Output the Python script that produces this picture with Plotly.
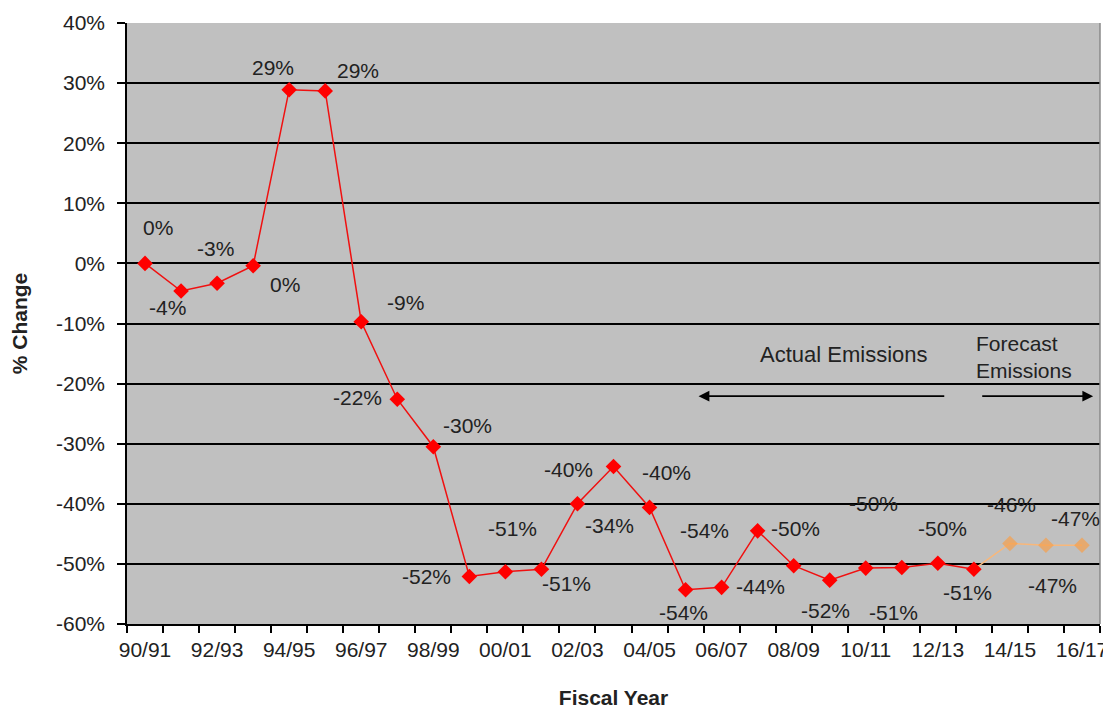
import plotly.graph_objects as go

categories = ["90/91", "91/92", "92/93", "93/94", "94/95", "95/96", "96/97", "97/98",
              "98/99", "99/00", "00/01", "01/02", "02/03", "03/04", "04/05", "05/06",
              "06/07", "07/08", "08/09", "09/10", "10/11", "11/12", "12/13", "13/14",
              "14/15", "15/16", "16/17"]
actual_values = [0.0, -4.6, -3.3, -0.4, 28.9, 28.7, -9.7, -22.6, -30.5, -52.1, -51.3,
                 -50.9, -40.0, -33.8, -40.6, -54.3, -53.9, -44.5, -50.3, -52.7, -50.7,
                 -50.6, -49.9, -50.9]
forecast_values = [-46.6, -46.9, -46.9]
label_texts = ["0%", "-4%", "-3%", "0%", "29%", "29%", "-9%", "-22%", "-30%", "-52%",
               "-51%", "-51%", "-40%", "-34%", "-40%", "-54%", "-54%", "-44%", "-50%",
               "-52%", "-50%", "-51%", "-50%", "-51%", "-46%", "-47%", "-47%"]
y_tick_values = [40, 30, 20, 10, 0, -10, -20, -30, -40, -50, -60]
y_tick_labels = ["40%", "30%", "20%", "10%", "0%", "-10%", "-20%", "-30%", "-40%",
                 "-50%", "-60%"]
# pixel offsets of each data label from its marker (style only)
label_offsets = [(13, -36), (-14, 16), (-2, -35), (32, 19), (-16, -22), (33, -20),
                 (44, -19), (-40, -2), (34, -21), (-43, 0), (7, -43), (25, 14),
                 (-9, -34), (-4, 59), (17, -35), (-2, 23), (-17, -57), (3, 56),
                 (2, -37), (-4, 30), (8, -65), (-8, 45), (5, -35), (-6, 23),
                 (2, -39), (7, 40), (-6, -27)]

n = len(categories)
x_all = list(range(n))
n_act = len(actual_values)
all_values = actual_values + forecast_values

FONT = "Liberation Sans, Arial, sans-serif"
TXT = "#222222"
FS = 21

fig = go.Figure()

# forecast (orange) - line starts at the last actual point
fig.add_trace(go.Scatter(
    x=x_all[n_act - 1:], y=[actual_values[-1]] + forecast_values,
    mode="lines+markers",
    line=dict(color="#F8B77A", width=1.5),
    marker=dict(symbol="diamond", size=[0] + [12] * len(forecast_values),
                color="#F7A04C", line=dict(width=0)),
    showlegend=False))

fig.add_trace(go.Scatter(
    x=x_all[:n_act], y=actual_values,
    mode="lines+markers",
    line=dict(color="#F01010", width=1.5),
    marker=dict(symbol="diamond", size=12, color="#FF0000", line=dict(width=0)),
    showlegend=False))

for i, (txt, (dx, dy)) in enumerate(zip(label_texts, label_offsets)):
    fig.add_annotation(x=x_all[i], y=all_values[i], text=txt, showarrow=False,
                       xshift=dx, yshift=-dy, font=dict(family=FONT, size=FS, color=TXT))

# Actual / Forecast arrows and text
fig.add_annotation(x=15.36, y=-22.1, ax=22.22, ay=-22.1, xref="x", yref="y",
                   axref="x", ayref="y", showarrow=True, arrowhead=2, arrowsize=1.2,
                   arrowwidth=1.8, arrowcolor="black", text="")
fig.add_annotation(x=26.31, y=-22.1, ax=23.19, ay=-22.1, xref="x", yref="y",
                   axref="x", ayref="y", showarrow=True, arrowhead=2, arrowsize=1.2,
                   arrowwidth=1.8, arrowcolor="black", text="")
fig.add_annotation(x=19.39, y=-15.1, text="Actual Emissions", showarrow=False,
                   font=dict(family=FONT, size=22, color=TXT))
fig.add_annotation(x=23.0, y=-15.5, text="Forecast<br>Emissions", showarrow=False,
                   xanchor="left", align="left",
                   font=dict(family=FONT, size=21, color=TXT))

# right border
fig.add_shape(type="line", xref="paper", yref="paper", x0=1, x1=1, y0=0, y1=1,
              line=dict(color="#8A8A8A", width=1.5))

# the page body has an 8px margin, so the figure is 8px smaller than the window
fig.update_layout(
    width=1103, height=701,
    margin=dict(l=119, r=11, t=15, b=85),
    paper_bgcolor="white", plot_bgcolor="#C0C0C0",
    font=dict(family=FONT, size=FS, color=TXT),
    xaxis=dict(
        range=[-0.5, n - 0.5], tickmode="array",
        tickvals=x_all[::2], ticktext=categories[::2],
        ticks="", showgrid=False, zeroline=False, automargin=False,
        showline=True, linecolor="black", linewidth=1.5,
        tickfont=dict(family=FONT, size=FS, color=TXT),
        ticklabelstandoff=6,
        minor=dict(tick0=-0.5, dtick=1, ticks="outside", ticklen=7,
                   tickcolor="black", tickwidth=1.5, showgrid=False),
        title=dict(text="<b>Fiscal Year</b>", standoff=33,
                   font=dict(family=FONT, size=21, color=TXT)),
    ),
    yaxis=dict(
        range=[-60, 40], tickmode="array",
        tickvals=y_tick_values, ticktext=y_tick_labels,
        ticks="outside", ticklen=8, tickcolor="black", tickwidth=1.5,
        showgrid=True, gridcolor="black", gridwidth=1.5, automargin=False,
        zeroline=False, showline=True, linecolor="black", linewidth=1.5,
        tickfont=dict(family=FONT, size=FS, color=TXT),
        ticklabelstandoff=8,
        title=dict(text="<b>% Change</b>", standoff=27,
                   font=dict(family=FONT, size=21, color=TXT)),
    ),
)

fig.write_html("out.html")
